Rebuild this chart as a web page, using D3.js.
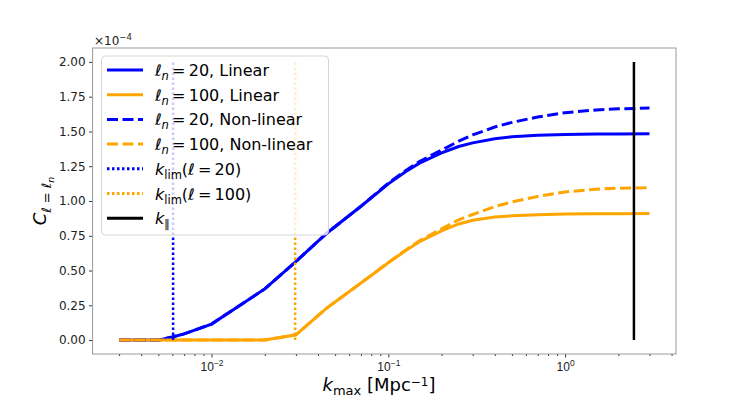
<!DOCTYPE html>
<html>
<head>
<meta charset="utf-8">
<script src="https://cdn.jsdelivr.net/npm/d3@7"></script>
<style>
  body { margin: 0; background: #fff; }
  svg { font-family: "DejaVu Sans", sans-serif; }
</style>
</head>
<body>
<svg id="chart" width="748" height="397"></svg>
<script>
// k_max grid [Mpc^-1] and C_{l=l_n} values (in units of 1e-4)
const kmax = [0.003, 0.004, 0.005, 0.006, 0.007, 0.01, 0.02, 0.03, 0.045, 0.07, 0.1, 0.125, 0.15, 0.2, 0.25, 0.3, 0.4, 0.5, 0.7, 1.0, 1.5, 2.0, 3.0];
const linear20 = [0, 0, 0, 0.022, 0.045, 0.115, 0.368, 0.565, 0.77, 0.962, 1.123, 1.21, 1.272, 1.346, 1.392, 1.418, 1.448, 1.462, 1.472, 1.478, 1.481, 1.482, 1.483];
const linear100 = [0, 0, 0, 0, 0, 0, 0, 0.038, 0.232, 0.41, 0.556, 0.642, 0.707, 0.785, 0.835, 0.862, 0.885, 0.894, 0.902, 0.906, 0.908, 0.909, 0.910];
const nonlin20 = [0, 0, 0, 0.022, 0.045, 0.115, 0.368, 0.565, 0.77, 0.962, 1.128, 1.218, 1.284, 1.366, 1.43, 1.475, 1.532, 1.565, 1.604, 1.635, 1.655, 1.663, 1.668];
const nonlin100 = [0, 0, 0, 0, 0, 0, 0, 0.038, 0.232, 0.41, 0.558, 0.646, 0.714, 0.80, 0.865, 0.903, 0.96, 0.993, 1.033, 1.065, 1.085, 1.092, 1.095];
const kLim = [0.00606, 0.0297];   // l = 20, l = 100
const kPar = 2.45;
const vlineTop = 2.0;
const yTicks = [0, 0.25, 0.5, 0.75, 1.0, 1.25, 1.5, 1.75, 2.0];
const xMajor = [0.01, 0.1, 1];
const xMajorExp = ["\u22122", "\u22121", "0"];

const margin = { top: 48, right: 72, bottom: 43, left: 92.6 };
const W = 748, H = 397;
const width = W - margin.left - margin.right;
const height = H - margin.top - margin.bottom;

const svg = d3.select("#chart");
const g = svg.append("g").attr("transform", `translate(${margin.left},${margin.top})`);

// log axis with matplotlib-like 5% margins
const lo = Math.log10(0.003), hi = Math.log10(3.0), pad = (hi - lo) * 0.05;
const x = d3.scaleLog().domain([Math.pow(10, lo - pad), Math.pow(10, hi + pad)]).range([0, width]);
const y = d3.scaleLinear().domain([-0.1, 2.1]).range([height, 0]);

const BLUE = "#0000ff", ORANGE = "#ffa500";

// minor ticks 2..9 x 10^n
const xMinor = [];
[0.001, 0.01, 0.1, 1].forEach(d => { for (let m = 2; m <= 9; m++) { const v = m * d; if (v >= x.domain()[0] && v <= x.domain()[1]) xMinor.push(v); } });

const xAxisMinor = g.append("g").attr("transform", `translate(0,${height})`)
  .call(d3.axisBottom(x).tickValues(xMinor).tickSize(2).tickFormat(""));
const xAxis = g.append("g").attr("transform", `translate(0,${height})`)
  .call(d3.axisBottom(x).tickValues(xMajor).tickSize(3.5).tickPadding(3).tickFormat(""));
[xAxisMinor, xAxis].forEach(a => { a.select(".domain").remove(); a.selectAll(".tick line").attr("stroke", "#333"); });

xAxis.selectAll(".tick").each(function (d, i) {
  const t = d3.select(this).append("text").attr("y", 17).attr("text-anchor", "middle")
    .attr("fill", "#222").style("font-size", "12px");
  t.append("tspan").text("10");
  t.append("tspan").attr("dy", -5).style("font-size", "8.5px").text(xMajorExp[i]);
});

const yAxis = g.append("g")
  .call(d3.axisLeft(y).tickValues(yTicks).tickSize(3.5).tickPadding(3.5).tickFormat(d3.format(".2f")));
yAxis.select(".domain").remove();
yAxis.selectAll(".tick line").attr("stroke", "#333");
yAxis.selectAll(".tick text").attr("fill", "#222").style("font-size", "12px").style("font-family", "DejaVu Sans");

// frame
g.append("rect").attr("width", width).attr("height", height)
  .attr("fill", "none").attr("stroke", "#999").attr("stroke-width", 1);

// curves
const line = d3.line().x(d => x(d[0])).y(d => y(d[1]));
const series = [
  { vals: linear20, color: BLUE, dash: null },
  { vals: linear100, color: ORANGE, dash: null },
  { vals: nonlin20, color: BLUE, dash: "11,4.5" },
  { vals: nonlin100, color: ORANGE, dash: "11,4.5" }
];
series.forEach(s => {
  g.append("path").datum(kmax.map((k, i) => [k, s.vals[i]]))
    .attr("d", line).attr("fill", "none").attr("stroke", s.color)
    .attr("stroke-width", 3).attr("stroke-dasharray", s.dash);
});

// vertical lines
[[kLim[0], BLUE, "2.5,2.5"], [kLim[1], ORANGE, "2.5,2.5"], [kPar, "#000", null]].forEach(([k, c, dash]) => {
  g.append("line").attr("x1", x(k)).attr("x2", x(k)).attr("y1", y(0)).attr("y2", y(vlineTop))
    .attr("stroke", c).attr("stroke-width", 2.5).attr("stroke-dasharray", dash);
});

// scale factor
const off = svg.append("text").attr("x", 94).attr("y", 45).attr("fill", "#222").style("font-size", "12px");
off.append("tspan").text("\u00d710");
off.append("tspan").attr("dy", -5).style("font-size", "8.5px").text("\u22124");

// axis labels
const xl = svg.append("text").attr("x", 379).attr("y", 391).attr("text-anchor", "middle")
  .attr("fill", "#000").style("font-size", "18px");
xl.append("tspan").style("font-style", "italic").text("k");
xl.append("tspan").attr("dy", 4).style("font-size", "13px").text("max");
xl.append("tspan").attr("dy", -4).text(" [Mpc");
xl.append("tspan").attr("dy", -5).style("font-size", "12px").text("\u22121");
xl.append("tspan").attr("dy", 5).text("]");

const yl = svg.append("text").attr("transform", "translate(46,201) rotate(-90)")
  .attr("text-anchor", "middle").attr("fill", "#000").style("font-size", "18px");
yl.append("tspan").style("font-style", "italic").text("C");
yl.append("tspan").attr("dy", 5).style("font-size", "13px").style("font-style", "italic").text("\u2113");
yl.append("tspan").style("font-size", "13px").text(" = ");
yl.append("tspan").style("font-size", "13px").style("font-style", "italic").text("\u2113");
yl.append("tspan").attr("dy", 3).style("font-size", "9.5px").style("font-style", "italic").text("n");

// legend
const legendItems = [
  { color: BLUE, dash: null, kind: "ln", num: "20", tail: ", Linear" },
  { color: ORANGE, dash: null, kind: "ln", num: "100", tail: ", Linear" },
  { color: BLUE, dash: "11,4.5", kind: "ln", num: "20", tail: ", Non-linear" },
  { color: ORANGE, dash: "11,4.5", kind: "ln", num: "100", tail: ", Non-linear" },
  { color: BLUE, dash: "2.5,2.5", kind: "klim", num: "20" },
  { color: ORANGE, dash: "2.5,2.5", kind: "klim", num: "100" },
  { color: "#000", dash: null, kind: "kpar" }
];
const lg = svg.append("g");
lg.append("rect").attr("x", 101.5).attr("y", 56).attr("width", 227).attr("height", 179).attr("rx", 4)
  .attr("fill", "#fff").attr("fill-opacity", 0.8).attr("stroke", "#d6d6d6").attr("stroke-width", 1);
legendItems.forEach((it, i) => {
  const cy = 70 + i * 24.7;
  lg.append("line").attr("x1", 107).attr("x2", 143).attr("y1", cy).attr("y2", cy)
    .attr("stroke", it.color).attr("stroke-width", 3).attr("stroke-dasharray", it.dash);
  const t = lg.append("text").attr("x", 155).attr("y", cy + 6).attr("fill", "#000").style("font-size", "16px");
  if (it.kind === "ln") {
    t.append("tspan").style("font-style", "italic").text("\u2113");
    t.append("tspan").attr("dy", 4).style("font-size", "11.5px").style("font-style", "italic").text("n");
    t.append("tspan").attr("dy", -4).text("\u2009=\u2009" + it.num + it.tail);
  } else if (it.kind === "klim") {
    t.append("tspan").style("font-style", "italic").text("k");
    t.append("tspan").attr("dy", 4).style("font-size", "11.5px").text("lim");
    t.append("tspan").attr("dy", -4).text("(");
    t.append("tspan").style("font-style", "italic").text("\u2113");
    t.append("tspan").text("\u2009=\u2009" + it.num + ")");
  } else {
    t.append("tspan").style("font-style", "italic").text("k");
    t.append("tspan").attr("dy", 4).style("font-size", "11.5px").text("\u2225");
  }
});
</script>
</body>
</html>
